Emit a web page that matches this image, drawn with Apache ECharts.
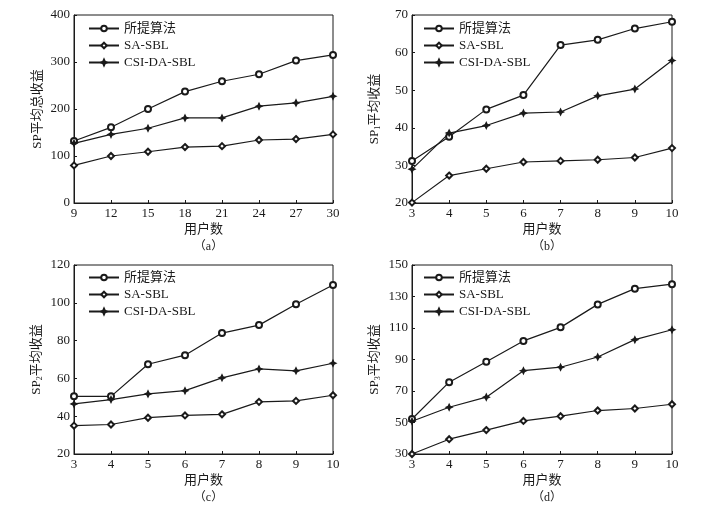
<!DOCTYPE html>
<html>
<head>
<meta charset="utf-8">
<script src="https://cdn.jsdelivr.net/npm/echarts@6/dist/echarts.min.js"></script>
<style>
  html, body { margin: 0; padding: 0; background: #fff; }
  #chart { width: 720px; height: 509px; }
</style>
</head>
<body>
<div id="chart"></div>
<script>
// 横轴：用户数
const usersA = [9, 12, 15, 18, 21, 24, 27, 30];
const usersB = [3, 4, 5, 6, 7, 8, 9, 10];

// (a) SP平均总收益
const aProposed = [132, 161, 200, 237, 259, 274, 303, 315];
const aSaSbl = [80, 100, 109, 119, 121, 134, 136, 146];
const aCsi = [127, 146, 159, 181, 181, 206, 213, 227];

// (b) SP1平均收益
const bProposed = [31.2, 37.6, 44.9, 48.7, 62.0, 63.4, 66.4, 68.2];
const bSaSbl = [20.1, 27.3, 29.1, 30.9, 31.2, 31.5, 32.1, 34.6];
const bCsi = [29.0, 38.6, 40.6, 43.9, 44.2, 48.5, 50.3, 57.9];

// (c) SP2平均收益
const cProposed = [50.5, 50.5, 67.5, 72.3, 84.0, 88.2, 99.2, 109.4];
const cSaSbl = [35.0, 35.6, 39.2, 40.4, 41.0, 47.6, 48.1, 51.1];
const cCsi = [46.5, 48.8, 51.8, 53.5, 60.3, 65.0, 64.0, 68.0];

// (d) SP3平均收益
const dProposed = [52.2, 75.6, 88.6, 101.8, 110.4, 125.0, 135.0, 137.8];
const dSaSbl = [30.0, 39.4, 45.2, 51.0, 54.0, 57.6, 58.9, 61.6];
const dCsi = [50.8, 59.7, 66.1, 82.9, 85.1, 91.6, 102.6, 108.9];

const dTicks = [30, 50, 70, 90, 110, 130, 150];
const seriesNames = ['所提算法', 'SA-SBL', 'CSI-DA-SBL'];
const panelLabels = ['（a）', '（b）', '（c）', '（d）'];

const FONT = '"Liberation Serif", "Noto Sans CJK SC", serif';
const INK = '#1a1a1a';
const STAR = 'path://M0,-5 L1.6,-1.6 L5,0 L1.6,1.6 L0,5 L-1.6,1.6 L-5,0 L-1.6,-1.6 Z';

const grids = [
    { left: 74, top: 15, width: 259, height: 188 },
    { left: 412, top: 15, width: 260, height: 188 },
    { left: 74, top: 265, width: 259, height: 189 },
    { left: 412, top: 265, width: 260, height: 189 }
];

const makeX = (i, min, max, interval) => ({
    type: 'value', gridIndex: i, min: min, max: max, interval: interval,
    name: '用户数', nameLocation: 'middle', nameGap: 20,
    nameTextStyle: { fontFamily: FONT, fontSize: 13, color: INK },
    axisLine: { lineStyle: { color: INK, width: 1 } },
    axisTick: { inside: true, length: 3, lineStyle: { color: INK } },
    axisLabel: { fontFamily: FONT, fontSize: 13, color: INK, margin: 4 },
    splitLine: { show: false }
});

const makeY = (i, min, max, interval, name, extra) => Object.assign({
    type: 'value', gridIndex: i, min: min, max: max, interval: interval,
    name: name, nameLocation: 'middle', nameGap: 30,
    nameTextStyle: {
        fontFamily: FONT, fontSize: 13, color: INK,
        rich: { sub: { fontFamily: FONT, fontSize: 8, color: INK, verticalAlign: 'bottom', padding: [6, 0, 0, 0] } }
    },
    axisLine: { lineStyle: { color: INK, width: 1 } },
    axisTick: { inside: true, length: 3, lineStyle: { color: INK } },
    axisLabel: { fontFamily: FONT, fontSize: 13, color: INK, margin: 4 },
    splitLine: { show: false }
}, extra || {});

const lineSeries = (i, xs, ys, k) => {
    const sym = [
        { symbol: 'emptyCircle', symbolSize: 6 },
        { symbol: 'emptyDiamond', symbolSize: 6 },
        { symbol: STAR, symbolSize: 6 }
    ][k];
    return {
        name: seriesNames[k], type: 'line', xAxisIndex: i, yAxisIndex: i,
        data: xs.map((x, j) => [x, ys[j]]),
        symbol: sym.symbol, symbolSize: sym.symbolSize,
        lineStyle: { color: INK, width: 1.2 },
        itemStyle: { color: INK, borderColor: INK, borderWidth: 1.3 },
        silent: true, animation: false
    };
};

const legendAt = (left, top) => ({
    data: seriesNames, orient: 'vertical', left: left, top: top,
    itemWidth: 30, itemHeight: 7, itemGap: 4,
    textStyle: { fontFamily: FONT, fontSize: 13, color: INK },
    selectedMode: false
});

const chart = echarts.init(document.getElementById('chart'));
chart.setOption({
    backgroundColor: '#fff',
    animation: false,
    grid: grids.map(g => Object.assign({ show: true, borderColor: INK, borderWidth: 1 }, g)),
    title: grids.map((g, i) => ({
        text: panelLabels[i], left: g.left + g.width / 2, top: g.top + g.height + 33,
        textAlign: 'center',
        textStyle: { fontFamily: FONT, fontSize: 12, fontWeight: 'normal', color: INK }
    })),
    legend: [
        legendAt(83, 17),
        legendAt(418, 17),
        legendAt(83, 266),
        legendAt(418, 266)
    ],
    xAxis: [
        makeX(0, 9, 30, 3),
        makeX(1, 3, 10, 1),
        makeX(2, 3, 10, 1),
        makeX(3, 3, 10, 1)
    ],
    yAxis: [
        makeY(0, 0, 400, 100, 'SP平均总收益'),
        makeY(1, 20, 70, 10, 'SP{sub|1}平均收益'),
        makeY(2, 20, 120, 20, 'SP{sub|2}平均收益'),
        makeY(3, 30, 150, 10, 'SP{sub|3}平均收益', {
            axisTick: { inside: true, length: 3, lineStyle: { color: INK }, customValues: dTicks },
            axisLabel: { fontFamily: FONT, fontSize: 13, color: INK, margin: 4, customValues: dTicks }
        })
    ],
    series: [
        lineSeries(0, usersA, aProposed, 0),
        lineSeries(0, usersA, aSaSbl, 1),
        lineSeries(0, usersA, aCsi, 2),
        lineSeries(1, usersB, bProposed, 0),
        lineSeries(1, usersB, bSaSbl, 1),
        lineSeries(1, usersB, bCsi, 2),
        lineSeries(2, usersB, cProposed, 0),
        lineSeries(2, usersB, cSaSbl, 1),
        lineSeries(2, usersB, cCsi, 2),
        lineSeries(3, usersB, dProposed, 0),
        lineSeries(3, usersB, dSaSbl, 1),
        lineSeries(3, usersB, dCsi, 2)
    ]
});
</script>
</body>
</html>
